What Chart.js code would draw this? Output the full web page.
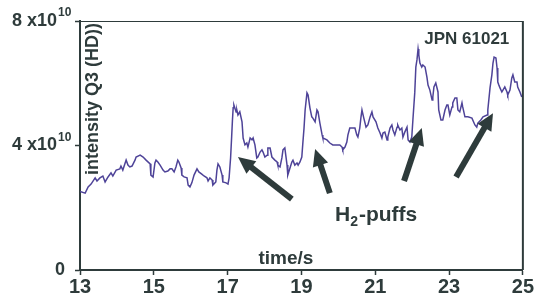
<!DOCTYPE html>
<html>
<head>
<meta charset="utf-8">
<script src="https://cdn.jsdelivr.net/npm/chart.js@4/dist/chart.umd.min.js"></script>
<style>
  body { margin: 0; background: #fff; }
  #chart { display: block; }
</style>
</head>
<body>
<canvas id="chart" width="534" height="302"></canvas>
<script>
// time in s, intensity in units of 1e10
const times = [
  13.00,13.14,13.22,13.30,13.41,13.46,13.54,13.62,13.68,13.76,
  13.84,13.89,13.98,14.08,14.11,14.16,14.25,14.30,14.35,14.41,
  14.49,14.52,14.63,14.71,14.79,14.90,14.92,14.98,15.03,15.06,
  15.11,15.17,15.25,15.30,15.38,15.44,15.49,15.55,15.60,15.65,
  15.68,15.74,15.76,15.82,15.90,15.93,15.98,16.03,16.09,16.17,
  16.22,16.30,16.36,16.44,16.47,16.52,16.58,16.60,16.68,16.71,
  16.74,16.79,16.85,16.87,16.96,17.01,17.04,17.08,17.11,17.13,
  17.15,17.17,17.23,17.25,17.28,17.33,17.39,17.42,17.47,17.52,
  17.55,17.61,17.66,17.69,17.74,17.79,17.82,17.88,17.93,17.96,
  18.01,18.07,18.09,18.15,18.20,18.28,18.34,18.36,18.42,18.47,
  18.50,18.55,18.61,18.63,18.69,18.74,18.77,18.82,18.88,18.91,
  18.96,19.01,19.04,19.07,19.10,19.15,19.18,19.23,19.28,19.31,
  19.37,19.42,19.45,19.50,19.56,19.58,19.69,19.77,19.85,19.96,
  20.04,20.10,20.12,20.18,20.23,20.26,20.31,20.40,20.45,20.50,
  20.53,20.58,20.61,20.64,20.69,20.75,20.80,20.86,20.91,20.94,
  21.02,21.07,21.13,21.18,21.21,21.26,21.32,21.34,21.40,21.45,
  21.48,21.53,21.59,21.61,21.67,21.72,21.75,21.80,21.86,21.89,
  21.94,21.99,22.02,22.07,22.10,22.13,22.16,22.18,22.21,22.26,
  22.29,22.35,22.40,22.43,22.48,22.54,22.56,22.59,22.64,22.70,
  22.72,22.78,22.83,22.89,22.94,22.97,23.02,23.08,23.10,23.16,
  23.21,23.24,23.29,23.35,23.37,23.43,23.51,23.62,23.70,23.75,
  23.78,23.86,23.92,24.03,24.05,24.11,24.16,24.19,24.22,24.27,
  24.30,24.32,24.35,24.38,24.43,24.46,24.51,24.57,24.59,24.65,
  24.70,24.73,24.78,24.84,24.86,24.92,24.97
];
const intensity = [
  2.52,2.47,2.67,2.76,2.96,2.86,2.96,3.02,2.83,2.99,
  3.12,3.02,3.21,3.25,3.34,3.21,3.53,3.37,3.31,3.34,
  3.53,3.63,3.69,3.63,3.53,3.41,3.05,2.99,3.44,3.53,
  3.47,3.37,3.21,3.15,3.18,3.25,3.25,3.15,3.31,3.53,
  3.47,3.28,3.05,2.99,2.96,2.73,2.67,2.80,3.05,3.25,
  3.15,3.08,3.02,2.96,2.86,2.96,2.89,2.73,2.83,3.21,
  3.41,3.31,3.05,2.83,2.80,2.76,2.96,3.60,4.30,4.80,
  5.21,5.30,5.08,5.14,4.98,5.08,4.76,4.24,4.02,4.08,
  3.95,4.24,4.18,4.24,4.02,3.60,3.63,3.79,3.86,3.79,
  3.63,3.69,3.92,3.92,3.63,3.53,3.47,3.37,3.31,3.60,
  3.86,3.92,3.37,3.05,3.28,3.47,3.53,3.37,3.44,3.37,
  3.47,3.63,4.11,4.56,5.14,5.69,5.62,5.21,4.92,4.88,
  4.76,5.14,5.08,4.72,4.34,4.24,4.18,4.08,4.02,4.02,
  4.02,3.95,3.86,3.95,4.11,4.34,4.56,4.56,4.56,4.34,
  4.27,4.56,4.88,5.14,4.88,4.59,4.66,4.92,5.08,4.92,
  4.76,4.56,4.40,4.24,4.40,4.43,4.18,4.27,4.56,4.66,
  4.50,4.34,4.59,4.66,4.50,4.56,4.27,4.43,4.59,4.18,
  4.11,4.27,4.82,5.69,6.52,6.75,7.10,6.91,6.65,6.52,
  6.59,6.52,6.20,5.94,5.78,5.46,5.56,5.88,6.01,5.72,
  5.14,4.82,4.82,5.14,5.30,5.30,4.98,5.24,5.37,5.53,
  5.53,5.14,5.08,5.37,5.24,4.92,4.92,4.88,4.66,4.59,
  4.72,4.82,4.92,4.98,5.14,5.85,6.27,6.65,6.84,6.81,
  6.49,6.04,5.94,5.85,5.72,5.78,5.88,5.72,5.62,5.78,
  6.17,6.27,6.04,6.04,5.88,5.72,5.56
];

const yTicks = [0, 4, 8];
const yExponent = "10";
const yTitle = "intensity Q3 (HD))";
const xTitle = "time/s";
const shotLabel = "JPN 61021";

// arrows pointing at the H2 puffs, [time, intensity] from tail to tip
const arrows = [
  { from: [18.74, 2.28], to: [17.28, 3.63] },
  { from: [19.77, 2.47], to: [19.37, 3.89] },
  { from: [21.78, 2.86], to: [22.26, 4.56] },
  { from: [23.19, 2.99], to: [24.19, 5.04] },
];

const ink = "#2e3b3b";
const lineColor = "#4e4398";
const family = "'Liberation Sans', Arial, sans-serif";

function drawArrow(ctx, x1, y1, x2, y2) {
    const ang = Math.atan2(y2 - y1, x2 - x1);
    const headLen = 17, headHalf = 8;
    const bx = x2 - headLen * Math.cos(ang);
    const by = y2 - headLen * Math.sin(ang);
    ctx.lineWidth = 6;
    ctx.lineCap = "butt";
    ctx.beginPath();
    ctx.moveTo(x1, y1);
    ctx.lineTo(bx + 2 * Math.cos(ang), by + 2 * Math.sin(ang));
    ctx.stroke();
    ctx.beginPath();
    ctx.moveTo(x2, y2);
    ctx.lineTo(bx + headHalf * Math.sin(ang), by - headHalf * Math.cos(ang));
    ctx.lineTo(bx - headHalf * Math.sin(ang), by + headHalf * Math.cos(ang));
    ctx.closePath();
    ctx.fill();
}

const annotate = {
    id: "annotate",
    afterDraw(chart) {
        const { ctx, chartArea: a, scales } = chart;
        const x = scales.x, y = scales.y;
        ctx.save();
        ctx.strokeStyle = ink;
        ctx.fillStyle = ink;

        // top and right frame lines
        ctx.lineWidth = 1;
        ctx.beginPath();
        ctx.moveTo(a.left, a.top + 0.5);
        ctx.lineTo(a.right, a.top + 0.5);
        ctx.stroke();
        ctx.lineWidth = 2;
        ctx.beginPath();
        ctx.moveTo(a.right, a.top);
        ctx.lineTo(a.right, a.bottom);
        ctx.stroke();

        // y tick labels with superscript exponent
        yTicks.forEach((v) => {
            const py = y.getPixelForValue(v);
            ctx.textBaseline = "middle";
            ctx.font = "bold 18px " + family;
            if (v === 0) {
                ctx.textAlign = "right";
                ctx.fillText("0", a.left - 15, py);
                return;
            }
            ctx.textAlign = "right";
            ctx.fillText(v + " x10", a.left - 23, py);
            ctx.font = "bold 12px " + family;
            ctx.textAlign = "left";
            ctx.fillText(yExponent, a.left - 22, py - 8);
        });

        // y title inside the plot
        ctx.save();
        ctx.translate(a.left + 18, a.top + 78);
        ctx.rotate(-Math.PI / 2);
        ctx.font = "bold 18px " + family;
        ctx.textAlign = "center";
        ctx.textBaseline = "alphabetic";
        ctx.fillText(yTitle, 0, 0);
        ctx.restore();

        // x title inside the plot
        ctx.font = "bold 19px " + family;
        ctx.textAlign = "center";
        ctx.textBaseline = "middle";
        ctx.fillText(xTitle, x.getPixelForValue(18.58), y.getPixelForValue(0.35));

        // shot number
        ctx.font = "bold 17px " + family;
        ctx.fillText(shotLabel, x.getPixelForValue(23.48), y.getPixelForValue(7.42));

        // H2-puffs label
        let hx = x.getPixelForValue(19.91);
        const hy = y.getPixelForValue(1.57);
        ctx.textAlign = "left";
        ctx.textBaseline = "alphabetic";
        ctx.font = "bold 21px " + family;
        ctx.fillText("H", hx, hy);
        hx += ctx.measureText("H").width;
        ctx.font = "bold 14px " + family;
        ctx.fillText("2", hx, hy + 5);
        hx += ctx.measureText("2").width + 1;
        ctx.font = "bold 21px " + family;
        ctx.fillText("-puffs", hx, hy);

        arrows.forEach((ar) => {
            drawArrow(ctx,
                x.getPixelForValue(ar.from[0]), y.getPixelForValue(ar.from[1]),
                x.getPixelForValue(ar.to[0]), y.getPixelForValue(ar.to[1]));
        });
        ctx.restore();
    },
};

new Chart(document.getElementById("chart"), {
    type: "line",
    data: {
        datasets: [
            {
                data: times.map((t, i) => ({ x: t, y: intensity[i] })),
                borderColor: lineColor,
                borderWidth: 1.5,
                pointRadius: 0,
                tension: 0,
                fill: false,
            },
        ],
    },
    options: {
        responsive: false,
        animation: false,
        events: [],
        layout: { padding: { top: 21, right: 11, left: 0, bottom: 0 } },
        plugins: { legend: { display: false }, tooltip: { enabled: false } },
        scales: {
            x: {
                type: "linear",
                min: 13,
                max: 25,
                afterFit: (s) => { s.height = 32; },
                border: { display: true, color: ink, width: 2 },
                grid: { drawOnChartArea: false, drawTicks: true, tickLength: 5, tickColor: ink, tickWidth: 1.5 },
                ticks: {
                    stepSize: 2,
                    autoSkip: false,
                    maxRotation: 0,
                    padding: 0,
                    color: ink,
                    font: { family: family, size: 20, weight: "bold" },
                },
            },
            y: {
                min: 0,
                max: 8,
                afterFit: (s) => { s.width = 80; },
                border: { display: true, color: ink, width: 2 },
                grid: { drawOnChartArea: false, drawTicks: true, tickLength: 5, tickColor: ink, tickWidth: 1.5 },
                // labels are drawn by the plugin so the exponent can be raised
                ticks: { stepSize: 4, display: true, callback: () => "" },
            },
        },
    },
    plugins: [annotate],
});
</script>
</body>
</html>
